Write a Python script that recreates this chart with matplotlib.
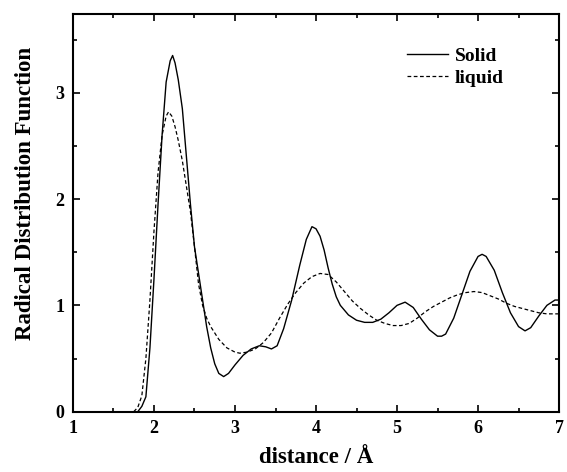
import numpy as np
import matplotlib
matplotlib.use("Agg")
import matplotlib.pyplot as plt
from matplotlib.ticker import MultipleLocator

# solid phase RDF
solid_x = [1.80, 1.85, 1.90, 1.95, 2.00, 2.05, 2.10, 2.15, 2.20, 2.23, 2.26, 2.30,
           2.35, 2.40, 2.45, 2.50, 2.55, 2.60, 2.65, 2.70, 2.75, 2.80, 2.86, 2.92,
           3.00, 3.10, 3.20, 3.30, 3.38, 3.45, 3.52, 3.60, 3.70, 3.80, 3.88, 3.95,
           4.00, 4.05, 4.10, 4.15, 4.20, 4.25, 4.30, 4.40, 4.50, 4.60, 4.70, 4.80,
           4.90, 5.00, 5.10, 5.20, 5.30, 5.40, 5.50, 5.55, 5.60, 5.70, 5.80, 5.90,
           6.00, 6.05, 6.10, 6.20, 6.30, 6.40, 6.50, 6.58, 6.65, 6.75, 6.85, 6.95, 7.00]
solid_y = [0.00, 0.05, 0.14, 0.60, 1.25, 1.95, 2.60, 3.10, 3.30, 3.35, 3.28, 3.12,
           2.85, 2.40, 1.95, 1.55, 1.30, 1.05, 0.80, 0.60, 0.45, 0.36, 0.33, 0.36,
           0.44, 0.53, 0.59, 0.62, 0.61, 0.59, 0.62, 0.78, 1.05, 1.38, 1.62, 1.74,
           1.72, 1.65, 1.52, 1.35, 1.20, 1.08, 1.00, 0.91, 0.86, 0.84, 0.84, 0.87,
           0.93, 1.00, 1.03, 0.98, 0.87, 0.77, 0.71, 0.71, 0.73, 0.88, 1.10, 1.32,
           1.46, 1.48, 1.46, 1.33, 1.12, 0.93, 0.80, 0.76, 0.79, 0.90, 1.00, 1.05, 1.05]

# liquid phase RDF
liquid_x = [1.75, 1.80, 1.85, 1.90, 1.95, 2.00, 2.05, 2.10, 2.15, 2.18, 2.22, 2.26,
            2.30, 2.35, 2.40, 2.45, 2.50, 2.55, 2.60, 2.65, 2.70, 2.80, 2.90, 3.00,
            3.06, 3.15, 3.25, 3.35, 3.45, 3.55, 3.65, 3.75, 3.85, 3.95, 4.05, 4.15,
            4.25, 4.35, 4.45, 4.55, 4.65, 4.75, 4.85, 4.95, 5.05, 5.15, 5.25, 5.35,
            5.45, 5.55, 5.65, 5.75, 5.85, 5.95, 6.05, 6.15, 6.25, 6.35, 6.45, 6.55,
            6.65, 6.75, 6.85, 7.00]
liquid_y = [0.00, 0.04, 0.15, 0.50, 1.05, 1.70, 2.25, 2.60, 2.78, 2.82, 2.78, 2.68,
            2.55, 2.36, 2.12, 1.88, 1.55, 1.20, 1.00, 0.88, 0.80, 0.68, 0.60, 0.56,
            0.55, 0.56, 0.59, 0.65, 0.74, 0.88, 1.01, 1.12, 1.21, 1.27, 1.30, 1.29,
            1.22, 1.13, 1.04, 0.97, 0.91, 0.86, 0.83, 0.81, 0.81, 0.83, 0.88, 0.94,
            0.99, 1.03, 1.07, 1.10, 1.12, 1.13, 1.12, 1.09, 1.06, 1.02, 0.99, 0.97,
            0.95, 0.93, 0.92, 0.92]

plt.rcParams['font.family'] = ['Liberation Serif', 'DejaVu Serif']
plt.rcParams['font.weight'] = 'bold'

fig = plt.figure(figsize=(5.67, 4.72), dpi=100)
ax = fig.add_axes([0.1287, 0.1278, 0.8573, 0.8425])

ax.plot(solid_x, solid_y, color='black', lw=1.0, label='Solid')
ax.plot(liquid_x, liquid_y, color='black', lw=0.9, ls=(0, (3, 2)), label='liquid')

ax.set_xlim(1, 7)
ax.set_ylim(0, 3.74)
ax.xaxis.set_major_locator(MultipleLocator(1))
ax.xaxis.set_minor_locator(MultipleLocator(0.5))
ax.yaxis.set_major_locator(MultipleLocator(1))
ax.yaxis.set_minor_locator(MultipleLocator(0.5))
ax.tick_params(which='both', direction='in', top=True, right=True, width=1.2)
ax.tick_params(which='major', length=5, labelsize=13, pad=6)
ax.tick_params(which='minor', length=3)
for sp in ax.spines.values():
    sp.set_linewidth(1.5)

ax.set_xlabel('distance / Å', fontsize=16.5, fontweight='bold')
ax.set_ylabel('Radical Distribution Function', fontsize=16.5, fontweight='bold')
ax.xaxis.set_label_coords(0.5, -0.088)
ax.yaxis.set_label_coords(-0.076, 0.55)

leg = ax.legend(loc='upper left', bbox_to_anchor=(0.687, 0.917), frameon=False,
                fontsize=14, handlelength=2.1, handletextpad=0.36,
                borderpad=0, borderaxespad=0, labelspacing=0.25)

fig.savefig('out.png', dpi=100)
